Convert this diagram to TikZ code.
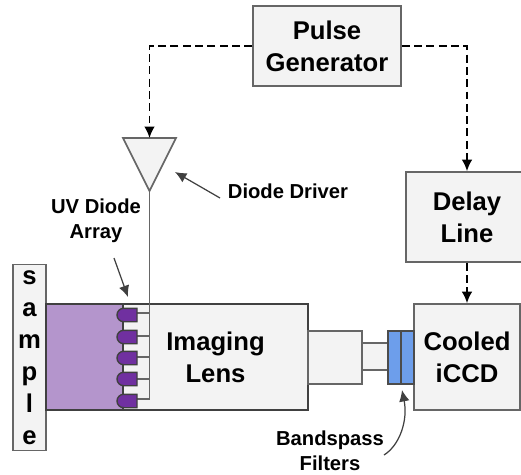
\documentclass[tikz,border=0pt]{standalone}
\usepackage{fontspec}
\setmainfont{Liberation Sans}
\usetikzlibrary{arrows.meta}
\definecolor{boxfill}{HTML}{F3F3F3}
\definecolor{boxline}{HTML}{666666}
\definecolor{lenspurple}{HTML}{B495CC}
\definecolor{diodepurple}{HTML}{7030A0}
\definecolor{filterblue}{HTML}{6D9EEB}
\tikzset{
  part/.style={draw=boxline,fill=boxfill,line width=1pt,align=center,inner sep=0pt,
    font=\fontsize{14.6}{18.2}\selectfont\bfseries},
  note/.style={align=center,inner sep=0pt,font=\fontsize{11.5}{14}\selectfont\bfseries},
  trigger/.style={->,dash pattern=on 4.5pt off 2.5pt,line width=0.9pt},
  pointer/.style={->,draw=black!75,line width=0.7pt},
  wire/.style={draw=boxline,line width=1pt}
}
\begin{document}
\begin{tikzpicture}[x=0.02cm,y=-0.02cm,>={Latex[width=6pt,length=6.5pt]}]
        \clip (0,0) rectangle (521,474);
        % boxes
        \node[part,minimum width=2.96cm,minimum height=1.6cm] (pulse) at (327,46) {Pulse\\Generator};
        \node[part,minimum width=2.44cm,minimum height=1.8cm] (delay) at (467,217) {Delay\\Line};
        \node[part,minimum width=2.12cm,minimum height=2.12cm] (iccd) at (467,357) {Cooled\\iCCD};
        \node[part,minimum width=0.66cm,minimum height=3.72cm] (sample) at (29.5,357.5) {s\\a\\m\\p\\l\\e};
        \node[part,draw=black!75,minimum width=3.7cm,minimum height=2.12cm] (lens) at (215.5,357) {Imaging\\Lens};
        \node[part,minimum width=1.08cm,minimum height=1.06cm] (barrel) at (335,357.5) {};
        \node[part,minimum width=0.52cm,minimum height=0.54cm] (tube) at (375,356.5) {};
        % purple part of the lens
        \draw[draw=black!75,line width=1pt,fill=lenspurple] (46,304) rectangle (123,410);
        % filters
        \node[part,draw=black!70,fill=filterblue,minimum width=0.26cm,minimum height=1.06cm] (filtera) at (394.5,357.5) {};
        \node[part,draw=black!70,fill=filterblue,minimum width=0.26cm,minimum height=1.06cm] (filterb) at (407.5,357.5) {};
        % driver triangle
        \coordinate (drvin) at (149.5,138);
        \coordinate (drvout) at (149.5,191);
        \coordinate (bus) at (149.5,399);
        \draw[draw=boxline,fill=boxfill,line width=0.9pt] (123,138)--(176,138)--(drvout)--cycle;
        \draw[wire] (drvout)--(bus);
        % diodes
        \foreach \i/\y/\s in {1/315/313,2/337/336,3/358/357,4/379/379,5/401/399}{
          \coordinate (d\i) at (137,\s);
          \draw[wire] (d\i)--(d\i-|bus);
          \draw[draw=black!75,line width=0.8pt,fill=diodepurple] (137,\y-6.7)--(123.7,\y-6.7)
            arc (-90:-270:6.7)--(137,\y+6.7)--cycle;
        }
        % dashed lines
        \draw[trigger] (pulse.west)-|(drvin);
        \draw[trigger] (pulse.east)-|(delay.north);
        \draw[trigger] (delay.south)--(iccd.north);
        % labels
        \node[note] (drvlabel) at (288,191) {Diode Driver};
        \node[note] (uvlabel) at (96,221) {UV Diode\\Array};
        \node[note] (bandlabel) at (330,451) {Bandspass\\Filters};
        \coordinate (drvtip) at (175,172);
        \coordinate (uvtip) at (128,297);
        \coordinate (bandtip) at (402,390);
        \draw[pointer] (220,198)--(drvtip);
        \draw[pointer] (114,258)--(uvtip);
        \draw[pointer] (384,455) .. controls (400,445) and (408,420) .. (bandtip);
\end{tikzpicture}
\end{document}
